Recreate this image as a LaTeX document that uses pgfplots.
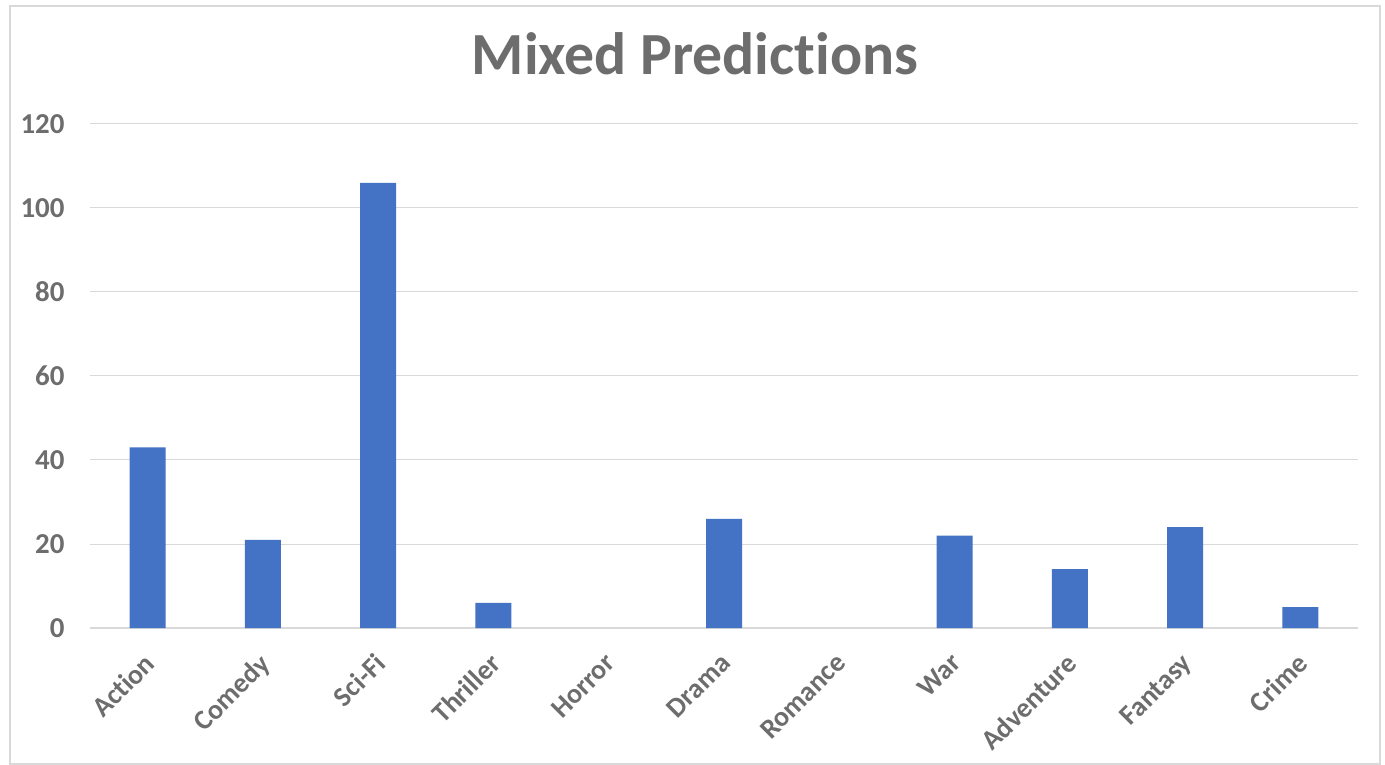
\documentclass[border=0pt]{standalone}
\usepackage{pgfplots}
\pgfplotsset{compat=1.18}
\usepackage{fontspec}
\setmainfont{Carlito}[Ligatures=CommonOff]
\definecolor{txt}{HTML}{6D6D6D}
\definecolor{barc}{HTML}{4472C4}
\definecolor{gridc}{HTML}{D9D9D9}
\begin{document}
\begin{tikzpicture}
\path[fill=white] (-90bp,-137bp) rectangle (1295bp,628bp);
\draw[gridc, line width=1.2bp] (-80bp,-136bp) rectangle (1290bp,622bp);
\begin{axis}[
  at={(0,0)}, anchor=south west,
  scale only axis, width=1268bp, height=504bp,
  xmin=-0.5, xmax=10.5, ymin=0, ymax=120,
  ytick={0,20,...,120},
  xtick={0,...,10},
  xticklabels={Action,Comedy,Sci-Fi,Thriller,Horror,Drama,Romance,War,Adventure,Fantasy,Crime},
  axis line style={draw=none},
  ymajorgrids, grid style={gridc, line width=1bp},
  major tick length=0pt,
  tick style={draw=none},
  /pgf/number format/assume math mode=true,
  yticklabel style={font=\fontsize{29}{31}\selectfont\bfseries, text=txt, anchor=east, xshift=-22bp},
  xticklabel style={font=\fontsize{28}{30}\selectfont\bfseries, text=txt, xshift=-5bp, yshift=-19bp, rotate=45, anchor=north east},
  clip=false,
  unbounded coords=discard,
]
\draw[gridc, line width=1.2bp] (axis cs:-0.5,0) -- (axis cs:10.5,0);
\addplot[ybar, bar width=36bp, fill=barc, draw=none,
  y filter/.expression={y==0 ? nan : y}] coordinates {
(0,43) (1,21) (2,106) (3,6) (4,0) (5,26) (6,0) (7,22) (8,14) (9,24) (10,5)};
\end{axis}
\node[anchor=base, text=txt, font=\fontsize{60}{64}\selectfont\bfseries] at (605bp,553bp) {Mixed Predictions};
\end{tikzpicture}
\end{document}
